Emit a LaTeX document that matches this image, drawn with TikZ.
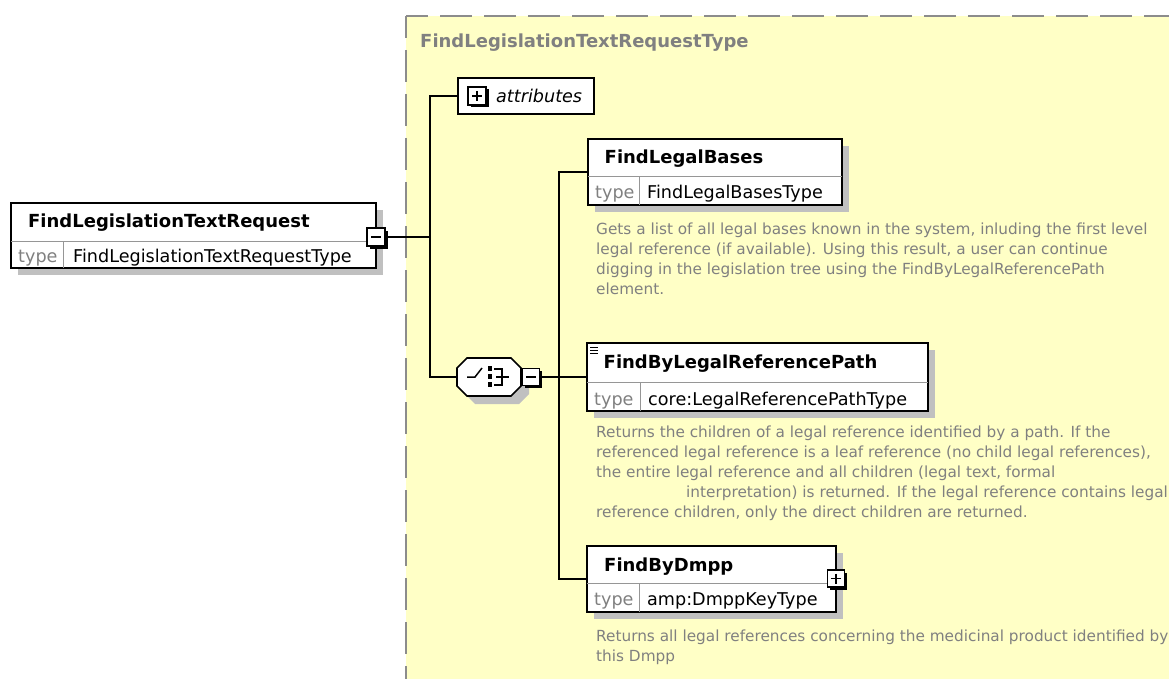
\documentclass[tikz,border=0pt]{standalone}
\usepackage{fontspec}
\setmainfont{DejaVu Sans}
\usetikzlibrary{shadows}
\definecolor{bgyellow}{RGB}{255,255,198}
\definecolor{dashgrey}{RGB}{140,140,140}
\definecolor{shadowgrey}{RGB}{192,192,192}
\definecolor{docgrey}{RGB}{128,128,128}
\definecolor{divgrey}{RGB}{150,150,150}
\begin{document}
\begin{tikzpicture}[x=1pt,y=-1pt,
  elbox/.style={draw=black, line width=1.7pt, fill=white, inner sep=0pt, outer sep=0pt, anchor=north west,
     drop shadow={shadow xshift=7pt, shadow yshift=-7pt, fill=shadowgrey, opacity=1}},
  plainbox/.style={draw=black, line width=1.7pt, fill=white, inner sep=0pt, outer sep=0pt, anchor=north west},
  divline/.style={draw=divgrey, line width=1pt},
  conn/.style={draw=black, line width=1.8pt},
  dashedge/.style={draw=dashgrey, line width=2pt, dash pattern=on 32pt off 12pt, dash phase=10pt},
  nametext/.style={anchor=base west, inner sep=0pt, font=\fontsize{18}{20}\selectfont\bfseries},
  typelbl/.style={anchor=base west, inner sep=0pt, text=docgrey, font=\fontsize{17.6}{20}\selectfont},
  typeval/.style={anchor=base west, inner sep=0pt, font=\fontsize{17.6}{20}\selectfont},
  doctext/.style={anchor=base west, inner sep=0pt, text=docgrey, font=\fontsize{15.3}{20}\selectfont},
  iconbox/.style={draw=black, line width=1.2pt, fill=white, minimum size=17pt, inner sep=0pt, outer sep=0pt,
     drop shadow={shadow xshift=2.5pt, shadow yshift=-2.5pt, fill=black, opacity=1}},
  glyph/.style={draw=black, line width=1.5pt},
  seqshadow/.style={fill=shadowgrey},
  seqshape/.style={draw=black, line width=1.7pt, fill=white},
]
\useasboundingbox (0,0) rectangle (1169,679);

% complex type area
\fill[bgyellow] (406,16) rectangle (1180,690);
\draw[dashedge] (406,16) -- (1180,16);
\draw[dashedge] (406,16) -- (406,690);
\node[nametext, text=docgrey] (title) at (420,48) {FindLegislationTextRequestType};

% root element
\node[elbox, minimum width=365pt, minimum height=65pt] (A) at (11,203) {};
\draw[divline] (A.north west) ++(0,38) -- ++(365,0);
\draw[divline] (A.north west) ++(52,38) -- ++(0,27);
\node[nametext] (An) at (28,227) {FindLegislationTextRequest};
\node[typelbl] (At) at (18,262) {type};
\node[typeval] (Av) at (73,262) {FindLegislationTextRequestType};
\node[iconbox, minimum size=18pt] (Am) at (376,237) {};
\draw[glyph] (Am.center) ++(-5,0) -- ++(10,0);

% attributes
\node[plainbox, minimum width=136pt, minimum height=36pt] (attr) at (458,78) {};
\node[iconbox, minimum size=18pt] (attrp) at (477,96) {};
\draw[glyph] (attrp.center) ++(-5,0) -- ++(10,0);
\draw[glyph] (attrp.center) ++(0,-5) -- ++(0,10);
\node[anchor=base west, inner sep=0pt, font=\fontsize{17.6}{20}\selectfont\itshape] (attrt) at (496,103) {attributes};

% sequence compositor
\node[minimum width=64pt, minimum height=38pt, inner sep=0pt, outer sep=0pt] (seq) at (489,377) {};
\fill[seqshadow] (475,366) -- (519,366) -- (529,376) -- (529,394) -- (519,404) -- (475,404) -- (465,394) -- (465,376) -- cycle;
\draw[seqshape] (467,358) -- (511,358) -- (521,368) -- (521,386) -- (511,396) -- (467,396) -- (457,386) -- (457,368) -- cycle;
\draw[glyph] (467,377) -- (475,377) -- (482,368);
\fill[black] (487.5,366) rectangle (492,370.5);
\fill[black] (487.5,374) rectangle (492,379);
\fill[black] (487.5,382) rectangle (492,386.5);
\draw[glyph] (494,369) -- (502,369) -- (502,385) -- (494,385);
\draw[glyph] (496,377) -- (509,377);
\node[iconbox] (seqm) at (531,377) {};
\draw[glyph] (seqm.center) ++(-5,0) -- ++(10,0);

% FindLegalBases
\node[elbox, minimum width=254pt, minimum height=66pt] (flb) at (588,139) {};
\draw[divline] (flb.north west) ++(0,38) -- ++(254,0);
\draw[divline] (flb.north west) ++(51,38) -- ++(0,28);
\node[nametext] (flbn) at (604.5,164) {FindLegalBases};
\node[typelbl] (flbt) at (595,198.5) {type};
\node[typeval] (flbv) at (647,198.5) {FindLegalBasesType};
\node[doctext] (d1a) at (596,234) {Gets a list of all legal bases known in the system, inluding the first level};
\node[doctext] (d1b) at (596,254) {legal reference (if available). Using this result, a user can continue};
\node[doctext] (d1c) at (596,274) {digging in the legislation tree using the FindByLegalReferencePath};
\node[doctext] (d1d) at (596,294) {element.};

% FindByLegalReferencePath
\node[elbox, minimum width=341pt, minimum height=68pt] (frp) at (587,343) {};
\draw[divline] (frp.north west) ++(0,39) -- ++(341,0);
\draw[divline] (frp.north west) ++(53,39) -- ++(0,29);
\draw[line width=1pt] (590,347.5) -- (598,347.5);
\draw[line width=1pt] (590,350.5) -- (598,350.5);
\draw[line width=1pt] (590,353.5) -- (598,353.5);
\node[nametext] (frpn) at (603.5,368.5) {FindByLegalReferencePath};
\node[typelbl] (frpt) at (594,405) {type};
\node[typeval] (frpv) at (648,405) {core:LegalReferencePathType};
\node[doctext] (d2a) at (596,437) {Returns the children of a legal reference identified by a path. If the};
\node[doctext] (d2b) at (596,457) {referenced legal reference is a leaf reference (no child legal references),};
\node[doctext] (d2c) at (596,477) {the entire legal reference and all children (legal text, formal};
\node[doctext] (d2d) at (686,497) {interpretation) is returned. If the legal reference contains legal};
\node[doctext] (d2e) at (596,517) {reference children, only the direct children are returned.};

% FindByDmpp
\node[elbox, minimum width=249pt, minimum height=66pt] (dmpp) at (587,546) {};
\draw[divline] (dmpp.north west) ++(0,37) -- ++(249,0);
\draw[divline] (dmpp.north west) ++(52,37) -- ++(0,29);
\node[nametext] (dmppn) at (604,571) {FindByDmpp};
\node[typelbl] (dmppt) at (594,605.5) {type};
\node[typeval] (dmppv) at (647,605.5) {amp:DmppKeyType};
\node[iconbox] (dmppp) at (836,578.5) {};
\draw[glyph] (dmppp.center) ++(-5,0) -- ++(10,0);
\draw[glyph] (dmppp.center) ++(0,-5) -- ++(0,10);
\node[doctext] (d3a) at (596,641) {Returns all legal references concerning the medicinal product identified by};
\node[doctext] (d3b) at (596,661) {this Dmpp};

% connectors
\coordinate (j1) at (430,237);
\coordinate (j2) at (559,377);
\draw[conn] (Am.east) -- (Am.east -| j1);
\draw[conn] (attr.west) -| (j1) |- (seq.west);
\draw[conn] (seqm.east) -- (seqm.east -| frp.west);
\draw[conn] (flb.west) -| (j2) |- (dmpp.west);
\end{tikzpicture}
\end{document}
